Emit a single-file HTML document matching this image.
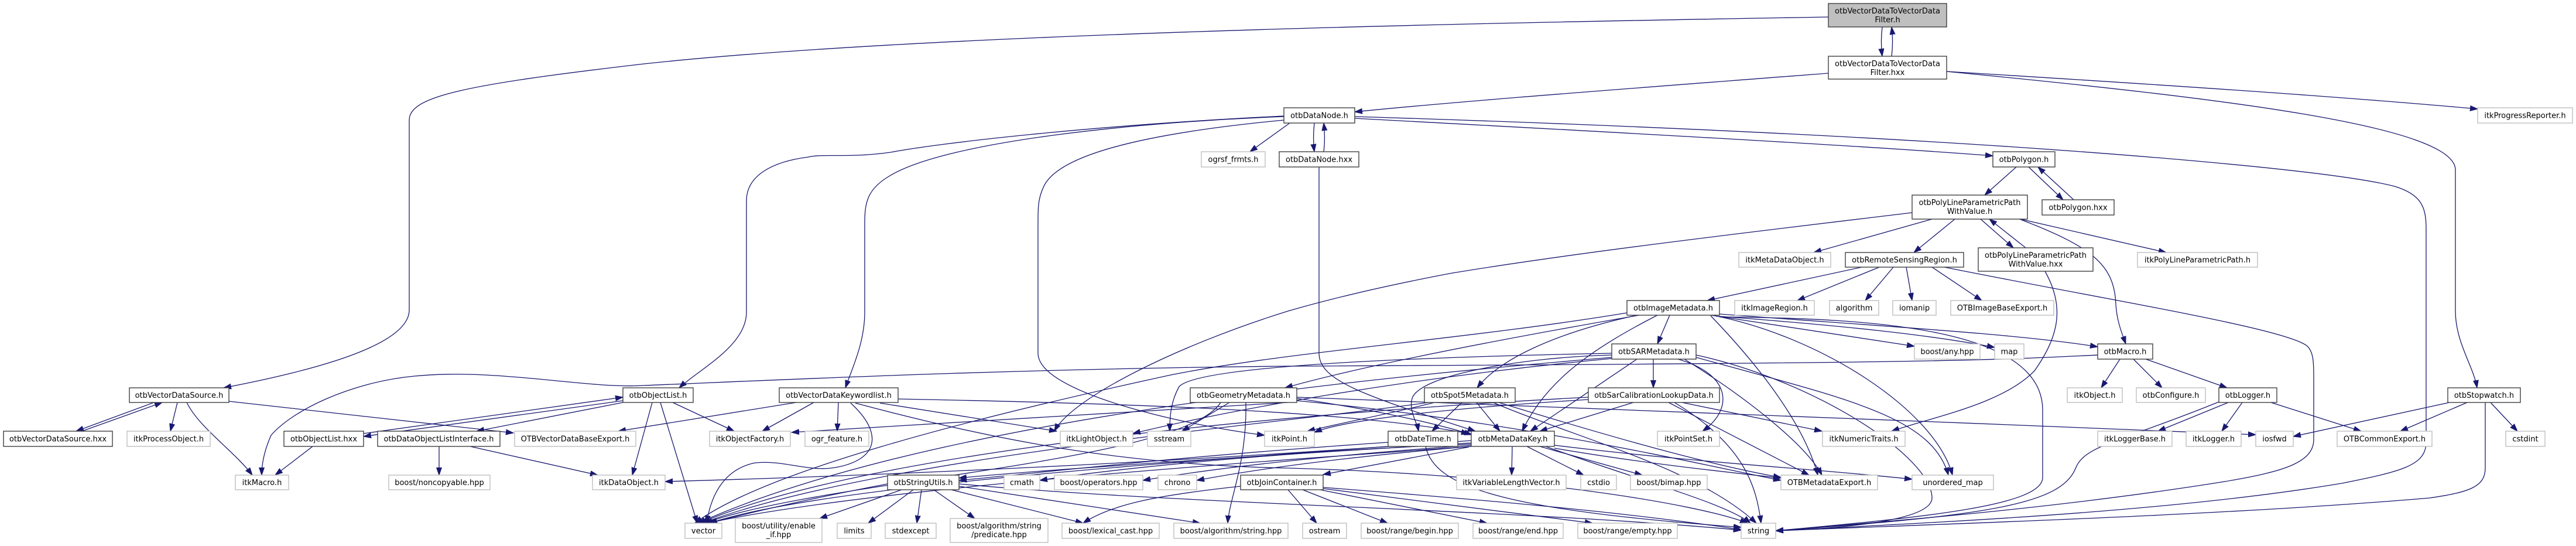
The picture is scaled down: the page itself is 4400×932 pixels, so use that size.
<!DOCTYPE html>
<html>
<head>
<meta charset="utf-8">
<style>
html,body{margin:0;padding:0;background:#fff;}
body{width:4400px;height:932px;overflow:hidden;}
svg{display:block;}
.e path{fill:none;stroke:#191970;stroke-width:1.3;}
.n rect{fill:#fff;stroke:#404040;stroke-width:1.4;}
.g rect{fill:#fff;stroke:#bfbfbf;stroke-width:1.4;}
text{font-family:"DejaVu Sans","Liberation Sans",sans-serif;font-size:13px;fill:#000;text-anchor:middle;}
</style>
</head>
<body>
<svg width="4400" height="932" viewBox="0 0 4400 932" xmlns="http://www.w3.org/2000/svg">
<defs>
<marker id="ah" markerUnits="userSpaceOnUse" markerWidth="14" markerHeight="10" refX="13" refY="5" orient="auto">
<path d="M0,0.5 L13,5 L0,9.5 z" fill="#191970" stroke="#191970" stroke-width="1"/>
</marker>
</defs>
<g class="e" marker-end="url(#ah)">
<path d="M3215,46 C3213,62 3213,80 3215,96"/>
<path d="M3231,96 C3233,80 3233,62 3231,46"/>
<path d="M3123,29 C2600,38 1600,55 1100,109 C790,145 699,165 699,205 L699,529 C699,585 560,628 382,662"/>
<path d="M3123,125 C2800,150 2500,172 2314,191"/>
<path d="M3325,122 C3700,145 4000,165 4232,186"/>
<path d="M3325,122 C3800,168 4194,215 4194,290 L4194,530 C4194,585 4225,625 4231,662"/>
<path d="M2203,210 L2135,259"/>
<path d="M2245,210 C2243,228 2243,243 2245,259"/>
<path d="M2261,259 C2263,243 2263,228 2261,210"/>
<path d="M2314,202 C2800,228 3200,250 3404,266"/>
<path d="M2314,199 C2800,214 3100,230 3300,242 C3600,260 3980,290 4090,318 C4135,332 4144,352 4144,390 L4144,755 C4144,795 4100,805 4000,825 C3700,875 3300,892 3033,906"/>
<path d="M2193,198 C1850,215 1600,245 1521,260 C1450,270 1405,262 1381,268 C1318,276 1275,300 1275,343 L1275,533 C1275,590 1195,630 1160,662"/>
<path d="M2193,199 C1950,208 1620,240 1520,300 C1482,322 1477,345 1477,380 L1477,533 C1477,585 1455,630 1444,662"/>
<path d="M2193,205 C1950,228 1805,265 1782,320 C1773,340 1773,355 1773,380 L1773,603 C1773,670 2020,725 2160,743"/>
<path d="M2253,285 L2253,603 C2253,650 2330,675 2520,736"/>
<path d="M3444,285 L3390,333"/>
<path d="M3465,285 L3524,341"/>
<path d="M3542,341 L3481,285"/>
<path d="M3383,374 L3439,423"/>
<path d="M3460,423 L3398,374"/>
<path d="M3451,374 L3700,431"/>
<path d="M3447,373 C3570,420 3612,450 3614,520 C3616,550 3625,570 3631,587"/>
<path d="M3300,374 L3098,431"/>
<path d="M3339,374 L3269,431"/>
<path d="M3266,363 C3000,395 2700,430 2481,466 C2380,485 2290,505 2200,531 C2010,590 1830,680 1801,736"/>
<path d="M3493,463 C3525,520 3520,570 3475,633 C3420,690 3300,712 3231,736"/>
<path d="M3180,456 L2916,513"/>
<path d="M3210,456 L3070,513"/>
<path d="M3234,456 L3186,513"/>
<path d="M3256,456 L3266,513"/>
<path d="M3300,456 L3385,513"/>
<path d="M3321,456 C3600,512 3900,560 3940,590 C3952,600 3952,620 3952,645 L3952,750 C3952,790 3900,805 3800,822 C3500,870 3200,892 3033,906"/>
<path d="M2852,538 L2831,587"/>
<path d="M2796,538 C2650,570 2560,615 2523,662"/>
<path d="M2831,538 C2720,595 2640,650 2600,736"/>
<path d="M2800,538 C2500,590 2300,632 2195,662"/>
<path d="M2922,538 L3270,591"/>
<path d="M2937,540 C3150,556 3300,572 3407,593"/>
<path d="M2937,536 C3200,556 3450,570 3583,592"/>
<path d="M2929,539 C3110,575 3305,700 3335,811"/>
<path d="M2922,539 C3000,620 3080,720 3105,811"/>
<path d="M2937,541 C3200,543 3489,560 3489,700 L3489,815 C3489,862 3300,882 3033,906"/>
<path d="M2779,534 C2500,580 2200,600 2000,640 C1700,705 1310,800 1187,893"/>
<path d="M2824,613 L2824,662"/>
<path d="M2796,613 L2614,736"/>
<path d="M2866,613 C2960,640 2960,700 2908,736"/>
<path d="M2877,613 C2985,680 3085,760 3112,811"/>
<path d="M2753,606 C2600,610 2425,640 2412,680 C2406,700 2420,720 2423,736"/>
<path d="M2897,606 C3100,650 3300,780 3300,850 C3300,892 3120,903 3033,906"/>
<path d="M2753,610 C2400,640 1600,710 1192,893"/>
<path d="M2897,610 C3150,680 3300,710 3328,811"/>
<path d="M2753,603 C2400,610 2045,625 2014,660 C2000,685 1998,710 1998,736"/>
<path d="M2753,612 C2400,645 2100,700 1935,740"/>
<path d="M2790,687 L2630,736"/>
<path d="M2713,682 C2500,695 2300,715 2245,738"/>
<path d="M2873,687 L3112,736"/>
<path d="M2850,687 L3090,811"/>
<path d="M2860,687 C2980,760 3000,830 3008,893"/>
<path d="M2713,678 C2300,700 1500,760 1196,893"/>
<path d="M2497,687 L2446,736"/>
<path d="M2522,687 L2562,736"/>
<path d="M2560,687 C2700,730 2900,790 3042,815"/>
<path d="M2550,687 C2700,750 2900,800 3000,893"/>
<path d="M2440,687 C2200,722 1500,780 1200,893"/>
<path d="M2450,687 C2380,705 2300,720 2233,736"/>
<path d="M2100,687 L2019,736"/>
<path d="M2215,680 C2350,700 2450,722 2514,742"/>
<path d="M2215,684 C2600,720 2900,792 3042,820"/>
<path d="M2085,687 C2020,790 1400,820 1204,893"/>
<path d="M2128,687 C2130,790 2100,850 2097,893"/>
<path d="M2200,687 C1900,705 1600,722 1352,738"/>
<path d="M2215,678 C2700,700 3300,718 3853,742"/>
<path d="M2583,762 L2582,811"/>
<path d="M2608,762 L2705,811"/>
<path d="M2630,762 L2805,811"/>
<path d="M2655,765 C2800,790 2950,806 3042,816"/>
<path d="M2655,760 C2900,790 3100,800 3266,818"/>
<path d="M2640,762 C2800,820 2950,860 2990,893"/>
<path d="M2513,756 C2200,775 1800,800 1638,816"/>
<path d="M2513,760 C2300,775 2100,795 1952,820"/>
<path d="M2513,758 C2200,770 1900,800 1776,820"/>
<path d="M2513,762 C2300,780 2150,800 2044,820"/>
<path d="M2513,762 C2200,785 1500,830 1208,893"/>
<path d="M2509,763 L2260,810"/>
<path d="M2513,752 C2000,790 1500,812 1136,822"/>
<path d="M2435,762 C2450,830 2560,870 2974,900"/>
<path d="M2371,755 C2000,780 1800,805 1638,820"/>
<path d="M2371,762 C2000,790 1400,830 1212,893"/>
<path d="M2200,836 L2249,893"/>
<path d="M2225,836 L2370,893"/>
<path d="M2255,836 L2540,893"/>
<path d="M2260,834 L2720,893"/>
<path d="M2260,832 C2600,858 2800,878 2974,904"/>
<path d="M2119,830 C1980,845 1900,860 1850,893"/>
<path d="M1516,826 C1400,848 1300,870 1212,893"/>
<path d="M1540,836 L1400,885"/>
<path d="M1560,836 L1483,893"/>
<path d="M1574,836 L1566,893"/>
<path d="M1595,836 L1665,885"/>
<path d="M1625,836 L1850,893"/>
<path d="M1638,830 L2050,893"/>
<path d="M1638,826 C2000,860 2600,870 2974,905"/>
<path d="M621,740 L1064,678"/>
<path d="M1064,684 L621,745"/>
<path d="M1064,687 L814,736"/>
<path d="M1114,687 L1080,811"/>
<path d="M1128,687 L1191,893"/>
<path d="M1149,687 L1254,736"/>
<path d="M534,762 L470,811"/>
<path d="M750,762 L750,811"/>
<path d="M803,762 L1021,811"/>
<path d="M263,687 L130,736"/>
<path d="M140,736 L277,687"/>
<path d="M303,687 L291,736"/>
<path d="M319,687 C340,730 400,770 431,811"/>
<path d="M391,685 L877,739"/>
<path d="M3583,606 C3400,615 3300,620 2200,625 C1700,630 1300,650 1100,658 C1000,664 850,628 708,642 C600,652 500,700 463,743 C452,768 447,790 447,811"/>
<path d="M1360,687 L1056,736"/>
<path d="M1390,687 L1302,736"/>
<path d="M1432,687 L1430,736"/>
<path d="M1453,688 C1510,740 1500,785 1427,798 C1380,806 1340,785 1290,790 C1240,800 1215,840 1207,893"/>
<path d="M1503,688 L1805,736"/>
<path d="M1534,681 C1900,688 2300,700 2509,740"/>
<path d="M1461,688 C1730,760 1942,794 2200,799 C2600,810 2900,860 2985,893"/>
<path d="M3621,613 L3589,662"/>
<path d="M3644,613 L3693,662"/>
<path d="M3665,613 L3804,662"/>
<path d="M3806,687 L3686,736"/>
<path d="M3830,687 L3795,736"/>
<path d="M3879,687 L4033,736"/>
<path d="M3790,686 C3620,755 3560,760 3545,800 C3520,860 3400,880 3033,906"/>
<path d="M4184,687 L3917,745"/>
<path d="M4214,687 L4100,736"/>
<path d="M4254,687 L4300,736"/>
<path d="M4245,687 L4245,799 C4245,830 4220,840 4150,850 C3800,880 3300,895 3033,906"/>
</g>

<!-- root node -->
<g>
<rect x="3123" y="6" width="202" height="40" fill="#bfbfbf" stroke="#404040" stroke-width="1.4"/>
<text x="3224" y="23">otbVectorDataToVectorData</text>
<text x="3224" y="38">Filter.h</text>
</g>

<!-- black-bordered nodes -->
<g class="n">
<rect x="3123" y="96" width="202" height="39"/><text x="3224" y="113">otbVectorDataToVectorData</text><text x="3224" y="128">Filter.hxx</text>
<rect x="2193" y="184" width="121" height="26"/><text x="2253.5" y="201.5">otbDataNode.h</text>
<rect x="2185" y="259" width="136" height="26"/><text x="2253" y="276.5">otbDataNode.hxx</text>
<rect x="3404" y="259" width="106" height="26"/><text x="3457" y="276.5">otbPolygon.h</text>
<rect x="3488" y="341" width="123" height="26"/><text x="3549.5" y="358.5">otbPolygon.hxx</text>
<rect x="3266" y="333" width="197" height="41"/><text x="3364.5" y="350">otbPolyLineParametricPath</text><text x="3364.5" y="365">WithValue.h</text>
<rect x="3379" y="423" width="196" height="40"/><text x="3477" y="440">otbPolyLineParametricPath</text><text x="3477" y="455">WithValue.hxx</text>
<rect x="3152" y="431" width="202" height="25"/><text x="3253" y="448">otbRemoteSensingRegion.h</text>
<rect x="2779" y="513" width="158" height="25"/><text x="2858" y="530">otbImageMetadata.h</text>
<rect x="2753" y="587" width="144" height="26"/><text x="2825" y="604.5">otbSARMetadata.h</text>
<rect x="3583" y="587" width="94" height="26"/><text x="3630" y="604.5">otbMacro.h</text>
<rect x="221" y="662" width="170" height="25"/><text x="306" y="679">otbVectorDataSource.h</text>
<rect x="1064" y="662" width="120" height="25"/><text x="1124" y="679">otbObjectList.h</text>
<rect x="1331" y="662" width="203" height="25"/><text x="1432.5" y="679">otbVectorDataKeywordlist.h</text>
<rect x="2033" y="662" width="182" height="25"/><text x="2124" y="679">otbGeometryMetadata.h</text>
<rect x="2433" y="662" width="155" height="25"/><text x="2510.5" y="679">otbSpot5Metadata.h</text>
<rect x="2713" y="662" width="224" height="25"/><text x="2825" y="679">otbSarCalibrationLookupData.h</text>
<rect x="3790" y="662" width="99" height="25"/><text x="3839.5" y="679">otbLogger.h</text>
<rect x="4181" y="662" width="124" height="25"/><text x="4243" y="679">otbStopwatch.h</text>
<rect x="6" y="736" width="186" height="26"/><text x="99" y="753.5">otbVectorDataSource.hxx</text>
<rect x="485" y="736" width="136" height="26"/><text x="553" y="753.5">otbObjectList.hxx</text>
<rect x="645" y="736" width="209" height="26"/><text x="749.5" y="753.5">otbDataObjectListInterface.h</text>
<rect x="2371" y="736" width="119" height="26"/><text x="2430.5" y="753.5">otbDateTime.h</text>
<rect x="2513" y="736" width="142" height="26"/><text x="2584" y="753.5">otbMetaDataKey.h</text>
<rect x="1516" y="811" width="122" height="25"/><text x="1577" y="828">otbStringUtils.h</text>
<rect x="2119" y="811" width="141" height="25"/><text x="2189.5" y="828">otbJoinContainer.h</text>
</g>

<!-- gray-bordered (external) nodes -->
<g class="g">
<rect x="2052" y="259" width="109" height="26"/><text x="2106.5" y="276.5">ogrsf_frmts.h</text>
<rect x="4232" y="184" width="162" height="26"/><text x="4313" y="201.5">itkProgressReporter.h</text>
<rect x="3651" y="431" width="205" height="25"/><text x="3753.5" y="448">itkPolyLineParametricPath.h</text>
<rect x="2970" y="431" width="157" height="25"/><text x="3048.5" y="448">itkMetaDataObject.h</text>
<rect x="2963" y="513" width="136" height="25"/><text x="3031" y="530">itkImageRegion.h</text>
<rect x="3125" y="513" width="84" height="25"/><text x="3167" y="530">algorithm</text>
<rect x="3233" y="513" width="74" height="25"/><text x="3270" y="530">iomanip</text>
<rect x="3332" y="513" width="176" height="25"/><text x="3420" y="530">OTBImageBaseExport.h</text>
<rect x="3270" y="587" width="112" height="26"/><text x="3326" y="604.5">boost/any.hpp</text>
<rect x="3407" y="587" width="50" height="26"/><text x="3432" y="604.5">map</text>
<rect x="3531" y="662" width="94" height="25"/><text x="3578" y="679">itkObject.h</text>
<rect x="3649" y="662" width="118" height="25"/><text x="3708" y="679">otbConfigure.h</text>
<rect x="217" y="736" width="142" height="26"/><text x="288" y="753.5">itkProcessObject.h</text>
<rect x="879" y="736" width="207" height="26"/><text x="982.5" y="753.5">OTBVectorDataBaseExport.h</text>
<rect x="1212" y="736" width="138" height="26"/><text x="1281" y="753.5">itkObjectFactory.h</text>
<rect x="1375" y="736" width="109" height="26"/><text x="1429.5" y="753.5">ogr_feature.h</text>
<rect x="1811" y="736" width="124" height="26"/><text x="1873" y="753.5">itkLightObject.h</text>
<rect x="1960" y="736" width="74" height="26"/><text x="1997" y="753.5">sstream</text>
<rect x="2160" y="736" width="85" height="26"/><text x="2202.5" y="753.5">itkPoint.h</text>
<rect x="2831" y="736" width="106" height="26"/><text x="2884" y="753.5">itkPointSet.h</text>
<rect x="3113" y="736" width="141" height="26"/><text x="3183.5" y="753.5">itkNumericTraits.h</text>
<rect x="3583" y="736" width="127" height="26"/><text x="3646.5" y="753.5">itkLoggerBase.h</text>
<rect x="3734" y="736" width="94" height="26"/><text x="3781" y="753.5">itkLogger.h</text>
<rect x="3853" y="736" width="64" height="26"/><text x="3885" y="753.5">iosfwd</text>
<rect x="3992" y="736" width="162" height="26"/><text x="4073" y="753.5">OTBCommonExport.h</text>
<rect x="4280" y="736" width="67" height="26"/><text x="4313.5" y="753.5">cstdint</text>
<rect x="402" y="811" width="91" height="25"/><text x="447.5" y="828">itkMacro.h</text>
<rect x="664" y="811" width="173" height="25"/><text x="750.5" y="828">boost/noncopyable.hpp</text>
<rect x="1012" y="811" width="124" height="25"/><text x="1074" y="828">itkDataObject.h</text>
<rect x="1715" y="811" width="61" height="25"/><text x="1745.5" y="828">cmath</text>
<rect x="1801" y="811" width="151" height="25"/><text x="1876.5" y="828">boost/operators.hpp</text>
<rect x="1978" y="811" width="66" height="25"/><text x="2011" y="828">chrono</text>
<rect x="2488" y="811" width="187" height="25"/><text x="2581.5" y="828">itkVariableLengthVector.h</text>
<rect x="2700" y="811" width="61" height="25"/><text x="2730.5" y="828">cstdio</text>
<rect x="2785" y="811" width="131" height="25"/><text x="2850.5" y="828">boost/bimap.hpp</text>
<rect x="3042" y="811" width="165" height="25"/><text x="3124.5" y="828">OTBMetadataExport.h</text>
<rect x="3266" y="811" width="139" height="25"/><text x="3335.5" y="828">unordered_map</text>
<rect x="1170" y="893" width="63" height="26"/><text x="1201.5" y="910.5">vector</text>
<rect x="1256" y="885" width="148" height="41"/><text x="1330" y="902">boost/utility/enable</text><text x="1330" y="917">_if.hpp</text>
<rect x="1430" y="893" width="58" height="26"/><text x="1459" y="910.5">limits</text>
<rect x="1512" y="893" width="87" height="26"/><text x="1555.5" y="910.5">stdexcept</text>
<rect x="1623" y="885" width="167" height="41"/><text x="1706.5" y="902">boost/algorithm/string</text><text x="1706.5" y="917">/predicate.hpp</text>
<rect x="1814" y="893" width="166" height="26"/><text x="1897" y="910.5">boost/lexical_cast.hpp</text>
<rect x="2005" y="893" width="195" height="26"/><text x="2102.5" y="910.5">boost/algorithm/string.hpp</text>
<rect x="2225" y="893" width="75" height="26"/><text x="2262.5" y="910.5">ostream</text>
<rect x="2325" y="893" width="166" height="26"/><text x="2408" y="910.5">boost/range/begin.hpp</text>
<rect x="2516" y="893" width="154" height="26"/><text x="2593" y="910.5">boost/range/end.hpp</text>
<rect x="2695" y="893" width="170" height="26"/><text x="2780" y="910.5">boost/range/empty.hpp</text>
<rect x="2974" y="893" width="59" height="26"/><text x="3003.5" y="910.5">string</text>
</g>
</svg>
</body>
</html>
